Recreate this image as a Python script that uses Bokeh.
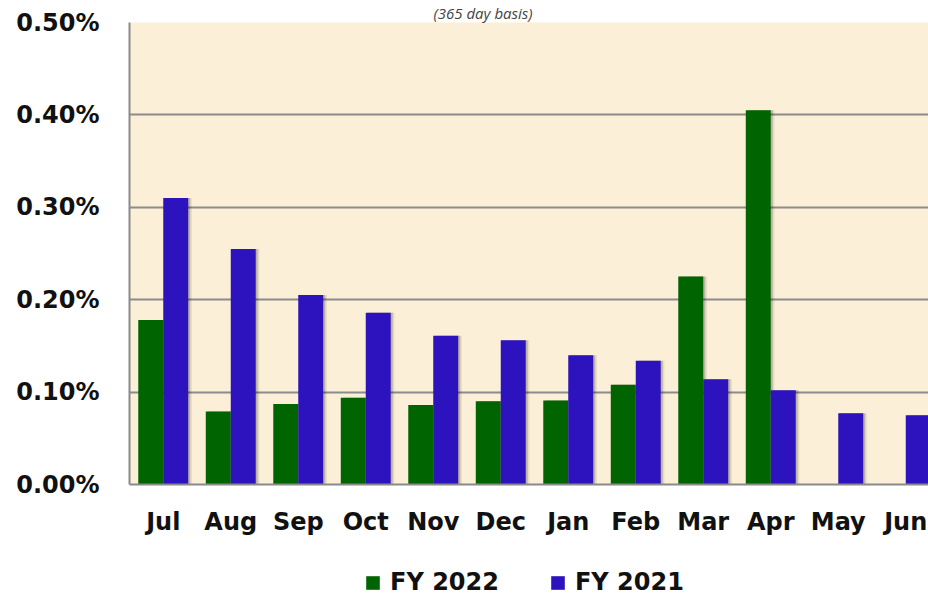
from bokeh.plotting import figure
from bokeh.layouts import column
from bokeh.models import (ColumnDataSource, FixedTicker, PrintfTickFormatter,
                          Legend, LegendItem, Range1d, Title)
from bokeh.transform import dodge
from bokeh.embed import file_html
from bokeh.resources import INLINE

# ---- data (values in percent) ----
months = ["Jul", "Aug", "Sep", "Oct", "Nov", "Dec",
          "Jan", "Feb", "Mar", "Apr", "May", "Jun"]
fy2022 = [0.178, 0.079, 0.087, 0.094, 0.086, 0.090,
          0.091, 0.108, 0.225, 0.405, None, None]
fy2021 = [0.310, 0.255, 0.205, 0.186, 0.161, 0.156,
          0.140, 0.134, 0.114, 0.102, 0.077, 0.075]
y_ticks = [0.0, 0.1, 0.2, 0.3, 0.4, 0.5]
series_names = ["FY 2022", "FY 2021"]
subtitle = "(365 day basis)"

GREEN = "#006400"
BLUE = "#2c13bd"
FONT = "DejaVu Sans"

idx22 = [i for i, v in enumerate(fy2022) if v is not None]
src22 = ColumnDataSource(dict(x=idx22, v=[fy2022[i] for i in idx22]))
src21 = ColumnDataSource(dict(x=list(range(len(months))), v=fy2021))

p = figure(frame_width=799, frame_height=462,
           x_range=Range1d(-0.5, 11.337), y_range=Range1d(0, 0.5),
           output_backend="svg", toolbar_location=None,
           min_border_left=129, min_border_right=0,
           min_border_top=22, min_border_bottom=65)

p.background_fill_color = "#fbefd7"
p.border_fill_color = "white"
p.outline_line_color = None

p.add_layout(Title(text=subtitle, align="left", offset=304, standoff=0,
                   text_font="Open Sans", text_font_size="15px",
                   text_font_style="italic", text_color="#444444"), "above")

# axes
p.yaxis.ticker = FixedTicker(ticks=y_ticks)
p.yaxis.formatter = PrintfTickFormatter(format="%.2f%%")
p.xaxis.ticker = FixedTicker(ticks=list(range(len(months))))
p.xaxis.major_label_overrides = {i: m for i, m in enumerate(months)}
for ax in (p.xaxis, p.yaxis):
    ax.axis_line_color = "#8a8a8a"
    ax.axis_line_width = 2
    ax.major_tick_line_color = None
    ax.minor_tick_line_color = None
    ax.major_tick_out = 0
    ax.major_tick_in = 0
    ax.minor_tick_out = 0
    ax.axis_label_standoff = 0
    ax.major_label_text_font = FONT
    ax.major_label_text_font_size = "24px"
    ax.major_label_text_font_style = "bold"
    ax.major_label_text_color = "#111111"
p.yaxis.major_label_standoff = 30
p.xaxis.major_label_standoff = 23

p.xgrid.visible = False
p.ygrid.grid_line_color = "#8c8c8c"
p.ygrid.grid_line_width = 2

# soft shadows
for off, alpha in ((0.03, 0.18), (0.055, 0.08)):
    p.vbar(x=dodge("x", -0.185 + off, range=p.x_range), top="v", width=0.37,
           source=src22, fill_color="black", fill_alpha=alpha, line_color=None)
    p.vbar(x=dodge("x", 0.185 + off, range=p.x_range), top="v", width=0.37,
           source=src21, fill_color="black", fill_alpha=alpha, line_color=None)

p.vbar(x=dodge("x", -0.185, range=p.x_range), top="v", width=0.37,
       source=src22, fill_color=GREEN, line_color=None)
p.vbar(x=dodge("x", 0.185, range=p.x_range), top="v", width=0.37,
       source=src21, fill_color=BLUE, line_color=None)

# ---- legend strip (separate small figure under the chart) ----
lf = figure(width=928, height=49, x_range=Range1d(-0.5, 11.337),
            y_range=Range1d(10, 11), output_backend="svg",
            toolbar_location=None, min_border=0)
lf.axis.visible = False
lf.grid.visible = False
lf.outline_line_color = None
lf.background_fill_color = "white"
lf.border_fill_color = "white"
l22 = lf.vbar(x="x", top="v", width=0.37, source=src22,
              fill_color=GREEN, line_color=None)
l21 = lf.vbar(x="x", top="v", width=0.37, source=src21,
              fill_color=BLUE, line_color=None)
legend = Legend(items=[LegendItem(label=series_names[0], renderers=[l22]),
                       LegendItem(label=series_names[1], renderers=[l21])],
                orientation="horizontal", location=(235, 2),
                label_text_font=FONT, label_text_font_size="24px",
                label_text_font_style="bold", label_text_color="#111111",
                glyph_width=17, glyph_height=17, label_standoff=9,
                label_height=20, spacing=50, padding=0, margin=0,
                border_line_color=None, background_fill_alpha=0)
lf.add_layout(legend, "center")

layout = column(p, lf, spacing=0)
open("out.html", "w").write(file_html(layout, INLINE))
